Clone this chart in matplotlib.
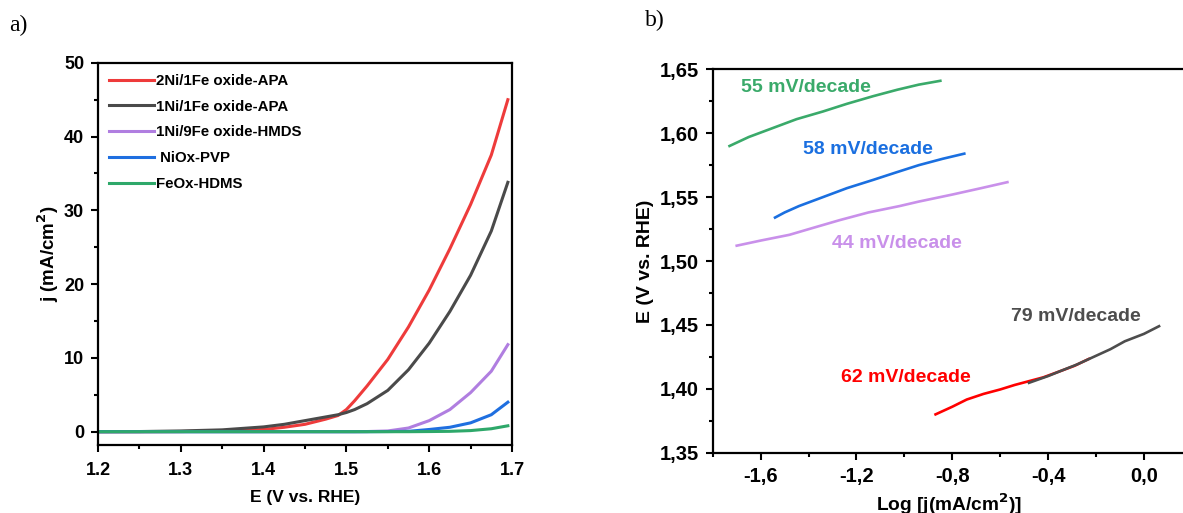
import matplotlib.pyplot as plt
import numpy as np
from matplotlib.ticker import MultipleLocator, FuncFormatter

plt.rcParams['font.family'] = ['Liberation Sans', 'DejaVu Sans']
plt.rcParams['font.weight'] = 'bold'

# panel a: polarisation curves
E = [1.20, 1.25, 1.30, 1.35, 1.40, 1.425, 1.45, 1.475, 1.49, 1.50, 1.51,
     1.525, 1.55, 1.575, 1.60, 1.625, 1.65, 1.675, 1.695]
j_2ni1fe = [0, 0, 0.02, 0.1, 0.3, 0.6, 1.0, 1.7, 2.2, 3.0, 4.2,
            6.2, 9.8, 14.2, 19.2, 24.8, 30.8, 37.5, 45.0]
j_1ni1fe = [0, 0.02, 0.1, 0.25, 0.65, 1.0, 1.5, 2.0, 2.3, 2.6, 3.0,
            3.8, 5.6, 8.4, 12.0, 16.3, 21.2, 27.2, 33.8]
j_1ni9fe = [0, 0, 0, 0, 0, 0, 0, 0, 0, 0, 0,
            0.02, 0.1, 0.5, 1.5, 3.0, 5.3, 8.2, 11.8]
j_niox = [0, 0, 0, 0, 0, 0, 0, 0, 0, 0, 0,
          0, 0.02, 0.05, 0.3, 0.6, 1.2, 2.3, 4.0]
j_feox = [0, 0, 0, 0, 0, 0, 0, 0, 0, 0, 0,
          0, 0, 0, 0.02, 0.05, 0.15, 0.4, 0.8]
labels_a = ['2Ni/1Fe oxide-APA', '1Ni/1Fe oxide-APA', '1Ni/9Fe oxide-HMDS',
            ' NiOx-PVP', 'FeOx-HDMS']
colors_a = ['#ee3b3b', '#4a4a4a', '#b07ee0', '#1f6fe0', '#2ea86a']

# panel b: Tafel plots
green_x = [-1.73, -1.65, -1.55, -1.45, -1.34, -1.24, -1.13, -1.03, -0.94, -0.85]
green_y = [1.590, 1.597, 1.604, 1.611, 1.617, 1.623, 1.629, 1.634, 1.638, 1.641]
blue_x = [-1.54, -1.50, -1.44, -1.34, -1.24, -1.13, -1.04, -0.94, -0.84, -0.75]
blue_y = [1.534, 1.538, 1.543, 1.550, 1.557, 1.5635, 1.569, 1.575, 1.580, 1.584]
purple_x = [-1.70, -1.60, -1.48, -1.38, -1.27, -1.15, -1.02, -0.94, -0.80, -0.68, -0.57]
purple_y = [1.512, 1.516, 1.5205, 1.526, 1.532, 1.538, 1.543, 1.5465, 1.552, 1.557, 1.5617]
red_x = [-0.87, -0.80, -0.74, -0.67, -0.60, -0.54, -0.48, -0.42, -0.35, -0.29, -0.23]
red_y = [1.380, 1.386, 1.3916, 1.396, 1.3995, 1.403, 1.406, 1.409, 1.4138, 1.418, 1.4234]
black_x = [-0.48, -0.40, -0.35, -0.28, -0.21, -0.14, -0.08, 0.0, 0.063]
black_y = [1.4047, 1.410, 1.4138, 1.419, 1.425, 1.431, 1.4372, 1.443, 1.449]
tafel_text = ['55 mV/decade', '58 mV/decade', '44 mV/decade', '79 mV/decade', '62 mV/decade']
tafel_pos = [(-1.684, 1.636), (-1.423, 1.5875), (-1.301, 1.5135), (-0.556, 1.4567), (-1.266, 1.4086)]
tafel_colors = ['#3aaa6a', '#1a6fe0', '#c990ea', '#4d4d4d', '#ff0000']

fig = plt.figure(figsize=(11.83, 5.13), dpi=100)


def style_axes(ax, size, pad=5):
    for s in ax.spines.values():
        s.set_linewidth(1.6)
    ax.tick_params(which='both', direction='out', width=1.5, labelsize=size, pad=pad)
    ax.tick_params(which='major', length=5)
    ax.tick_params(which='minor', length=3)
    for lab in ax.get_xticklabels() + ax.get_yticklabels():
        lab.set_fontweight('bold')


# ---- panel a
ax1 = fig.add_axes([0.0828, 0.1326, 0.350, 0.745])
for y, lab, c in zip([j_2ni1fe, j_1ni1fe, j_1ni9fe, j_niox, j_feox], labels_a, colors_a):
    ax1.plot(E, y, color=c, lw=2.2, label=lab)
ax1.set_xlim(1.2, 1.7)
ax1.set_ylim(-1.8, 50)
ax1.xaxis.set_major_locator(MultipleLocator(0.1))
ax1.xaxis.set_minor_locator(MultipleLocator(0.05))
ax1.yaxis.set_major_locator(MultipleLocator(10))
ax1.yaxis.set_minor_locator(MultipleLocator(5))
ax1.xaxis.set_major_formatter(FuncFormatter(lambda v, p: f'{v:.1f}'))
style_axes(ax1, 13)
ax1.tick_params(axis='x', pad=7)
ax1.set_xlabel('E (V vs. RHE)', fontsize=12.5, fontweight='bold', labelpad=8)
ax1.set_ylabel('j (mA/cm$^\\mathbf{2}$)', fontsize=13.5, fontweight='bold', labelpad=2)
ax1.legend(loc='upper left', frameon=False, handlelength=3.0,
           handletextpad=0.1, labelspacing=0.78, borderaxespad=0.35,
           prop={'weight': 'bold', 'size': 10.8})
fig.text(0.008, 0.95, 'a)', family='Liberation Serif', fontsize=17, weight='normal', va='center')

# ---- panel b (axes run past the right edge of the figure)
ax2 = fig.add_axes([0.6025, 0.1175, 0.4455, 0.7474])
ax2.plot(green_x, green_y, color=tafel_colors[0], lw=1.9)
ax2.plot(blue_x, blue_y, color=tafel_colors[1], lw=1.9)
ax2.plot(purple_x, purple_y, color=tafel_colors[2], lw=1.9)
ax2.plot(red_x, red_y, color=tafel_colors[4], lw=1.9)
ax2.plot(black_x, black_y, color=tafel_colors[3], lw=1.9)
for t, (x, y), c in zip(tafel_text, tafel_pos, tafel_colors):
    ax2.text(x, y, t, color=c, fontsize=14, fontweight='bold', va='center', ha='left')
ax2.set_xlim(-1.8, 0.4)
ax2.set_ylim(1.35, 1.65)
ax2.xaxis.set_major_locator(MultipleLocator(0.4))
ax2.xaxis.set_minor_locator(MultipleLocator(0.2))
ax2.yaxis.set_major_locator(MultipleLocator(0.05))
ax2.yaxis.set_minor_locator(MultipleLocator(0.025))
ax2.xaxis.set_major_formatter(FuncFormatter(lambda v, p: f'{v:.1f}'.replace('.', ',').replace('-0,0', '0,0')))
ax2.yaxis.set_major_formatter(FuncFormatter(lambda v, p: f'{v:.2f}'.replace('.', ',')))
style_axes(ax2, 14.5)
ax2.set_xlabel('Log [j(mA/cm$^\\mathbf{2}$)]', fontsize=13.8, fontweight='bold')
ax2.xaxis.set_label_coords(0.449, -0.102)
ax2.set_ylabel('E (V vs. RHE)', fontsize=14, fontweight='bold', labelpad=4)
fig.text(0.545, 0.96, 'b)', family='Liberation Serif', fontsize=17, weight='normal', va='center')

fig.savefig('out.png', dpi=100)
